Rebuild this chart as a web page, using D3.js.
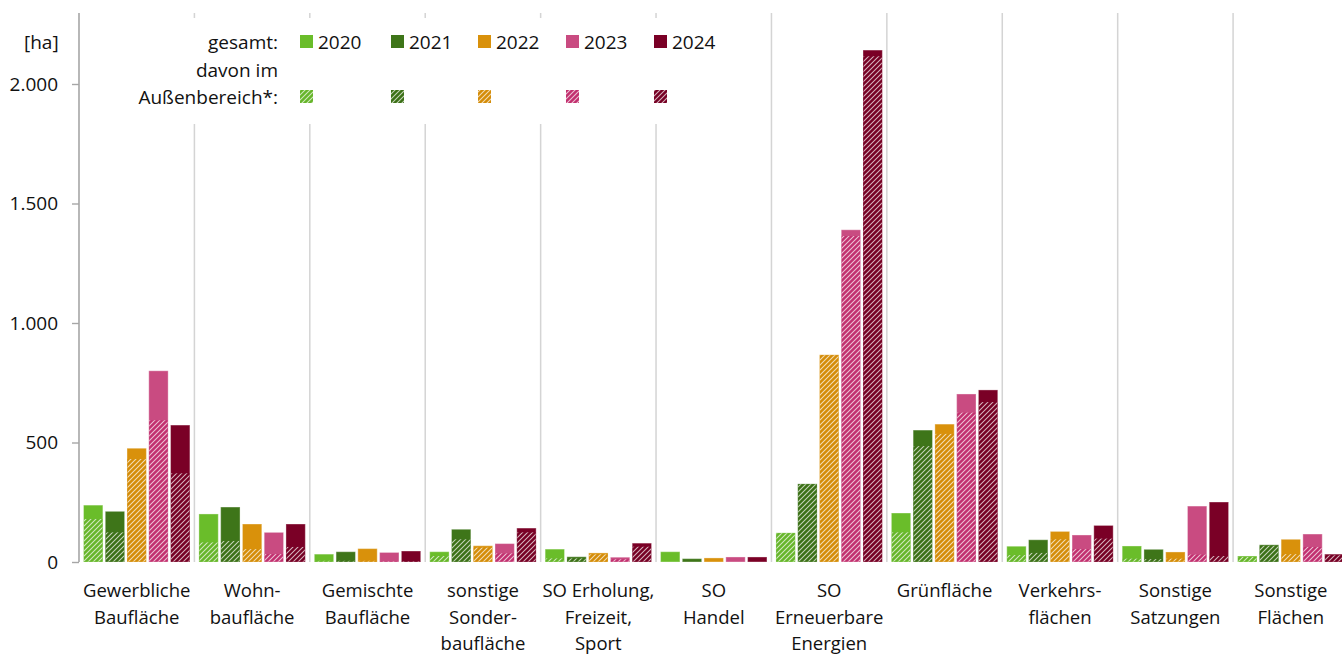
<!DOCTYPE html>
<html><head><meta charset="utf-8">
<script src="https://cdn.jsdelivr.net/npm/d3@7"></script>
<style>
body{margin:0;background:#fff;}
svg{display:block;font-family:"Open Sans",sans-serif;}
</style></head>
<body><svg id="c" width="1342" height="655"></svg>
<script>
const categories = [
  ["Gewerbliche","Baufläche"],
  ["Wohn-","baufläche"],
  ["Gemischte","Baufläche"],
  ["sonstige","Sonder-","baufläche"],
  ["SO Erholung,","Freizeit,","Sport"],
  ["SO","Handel"],
  ["SO","Erneuerbare","Energien"],
  ["Grünfläche"],
  ["Verkehrs-","flächen"],
  ["Sonstige","Satzungen"],
  ["Sonstige","Flächen"]
];
const years = ["2020","2021","2022","2023","2024"];
const colors = ["#6abd2a","#3e7519","#d9910b","#c94b81","#7a0026"];
const hatchColors = ["#66b52a","#3b7016","#d48c08","#c2306f","#760024"];
// gesamt (total) in ha
const total2020 = [238,201,33,43,54,43,122,205,66,67,25];
const total2021 = [212,230,43,137,22,14,327,552,93,53,72];
const total2022 = [476,159,56,68,38,17,867,577,128,42,95];
const total2023 = [800,124,40,77,20,21,1390,703,113,234,117];
const total2024 = [573,159,46,142,79,21,2142,720,153,251,33];
// davon im Außenbereich
const aussen2020 = [180,82,5,25,15,2,120,124,29,14,21];
const aussen2021 = [124,88,5,95,15,2,325,485,38,12,68];
const aussen2022 = [431,54,5,60,32,1,865,536,95,14,33];
const aussen2023 = [593,33,4,36,11,1,1364,625,54,31,63];
const aussen2024 = [371,63,4,124,64,1,2116,669,98,25,28];
const yTicks = [0,500,1000,1500,2000];
const tickLabels = ["0","500","1.000","1.500","2.000"];

const totals = [total2020,total2021,total2022,total2023,total2024];
const aussen = [aussen2020,aussen2021,aussen2022,aussen2023,aussen2024];

const svg = d3.select("#c");
const x0 = d3.scaleBand().domain(d3.range(categories.length)).range([79,1348.5]).padding(0);
const x1 = d3.scaleBand().domain(d3.range(years.length)).range([4.5, x0.bandwidth()-4.5]).paddingInner(0.11).paddingOuter(0);
const y = d3.scaleLinear().domain([0,2000]).range([562,84]);

const defs = svg.append("defs");
hatchColors.forEach((c,i)=>{
  const p = defs.append("pattern").attr("id","h"+i).attr("patternUnits","userSpaceOnUse")
    .attr("width",5).attr("height",5);
  p.append("rect").attr("width",5).attr("height",5).attr("fill",c);
  p.append("path").attr("d","M-1,1 L1,-1 M0,5 L5,0 M4,6 L6,4")
    .attr("stroke","#fff").attr("stroke-opacity",0.7).attr("stroke-width",1.05);
});

// category dividers
svg.append("g").selectAll("line").data(d3.range(1,categories.length)).join("line")
  .attr("x1",d=>x0(d)).attr("x2",d=>x0(d)).attr("y1",13).attr("y2",562)
  .attr("stroke","#d4d4d4").attr("stroke-width",1.5);

// bars
const rows = [];
categories.forEach((c,ci)=>years.forEach((yr,yi)=>rows.push({ci,yi,t:totals[yi][ci],a:aussen[yi][ci]})));
const g = svg.append("g");
g.selectAll("rect.t").data(rows).join("rect").attr("class","t")
  .attr("x",d=>x0(d.ci)+x1(d.yi)).attr("width",x1.bandwidth())
  .attr("y",d=>y(d.t)).attr("height",d=>y(0)-y(d.t))
  .attr("fill",d=>colors[d.yi]).attr("stroke","#fff").attr("stroke-opacity",0.35).attr("stroke-width",1);
g.selectAll("rect.a").data(rows).join("rect").attr("class","a")
  .attr("x",d=>x0(d.ci)+x1(d.yi)+0.5).attr("width",x1.bandwidth()-1)
  .attr("y",d=>y(d.a)).attr("height",d=>y(0)-y(d.a)-0.5)
  .attr("fill",d=>`url(#h${d.yi})`);

// y axis
const ax = svg.append("g").attr("transform","translate(79,0)")
  .call(d3.axisLeft(y).tickValues(yTicks).tickFormat((d,i)=>tickLabels[i]).tickSize(7).tickPadding(14));
ax.select(".domain").attr("d","M0,13V562").attr("stroke","#a6a6a6").attr("stroke-width",1.6);
ax.selectAll(".tick line").attr("stroke","#a6a6a6").attr("stroke-width",1.4);
ax.selectAll(".tick text").attr("font-size",19).attr("fill","#111").attr("font-family","Open Sans");

svg.append("text").attr("x",24).attr("y",49).attr("font-size",19).attr("fill","#111").text("[ha]");

// category labels
const lab = svg.append("g").selectAll("text").data(categories).join("text")
  .attr("text-anchor","middle").attr("font-size",18.5).attr("fill","#111")
  .attr("transform",(d,i)=>`translate(${x0(i)+x0.bandwidth()/2},597)`);
lab.selectAll("tspan").data(d=>d).join("tspan").attr("x",0).attr("dy",(d,i)=>i?26.5:0).text(d=>d);

// legend
const lg = svg.append("g");
lg.append("rect").attr("x",96).attr("y",18).attr("width",630).attr("height",106).attr("fill","#fff");
const lt = [["gesamt:",49],["davon im",77],["Außenbereich*:",104]];
lg.selectAll("text.l").data(lt).join("text").attr("class","l").attr("x",278).attr("y",d=>d[1])
  .attr("text-anchor","end").attr("font-size",19).attr("fill","#111").text(d=>d[0]);
const lx = [300,391,478,566,654];
years.forEach((yr,i)=>{
  lg.append("rect").attr("x",lx[i]).attr("y",35).attr("width",13).attr("height",13).attr("fill",colors[i]);
  lg.append("text").attr("x",lx[i]+18).attr("y",49).attr("font-size",19).attr("fill","#111").text(yr);
  lg.append("rect").attr("x",lx[i]).attr("y",90).attr("width",13).attr("height",13).attr("fill",`url(#h${i})`);
});
</script></body></html>
